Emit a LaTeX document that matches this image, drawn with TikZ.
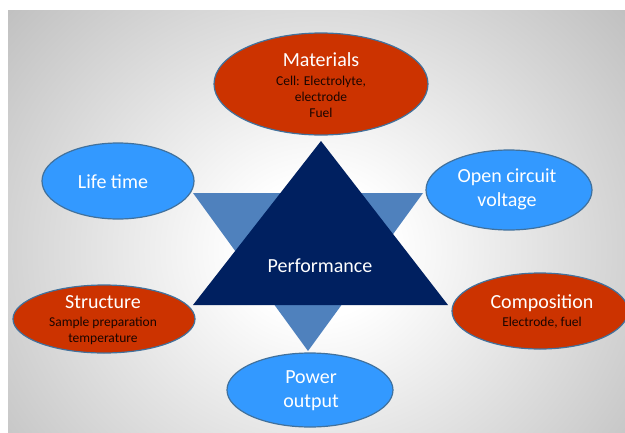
\documentclass[tikz,border=0pt]{standalone}
\usepackage{fontspec}
\setmainfont{Carlito}
\usetikzlibrary{shapes.geometric}
\definecolor{redfill}{HTML}{CC3300}
\definecolor{bluefill}{HTML}{3399FF}
\definecolor{edgeblue}{HTML}{41719C}
\definecolor{navytri}{HTML}{002060}
\definecolor{midblue}{HTML}{4F81BD}
\definecolor{subtext}{HTML}{1A0500}
\pgfdeclareradialshading{bgshade}{\pgfpoint{0bp}{0bp}}{color(0bp)=(white); color(6bp)=(white); color(28bp)=(black!20); color(50bp)=(black!40); color(75bp)=(black!42)}
\newcommand\ttlfont{\fontsize{20}{24}\selectfont}
\newcommand\subfont{\fontsize{13.5}{16}\selectfont}
\tikzset{
  oval/.style={ellipse, draw=edgeblue, line width=1.2pt, inner sep=0pt},
  redoval/.style={oval, fill=redfill},
  blueoval/.style={oval, fill=bluefill},
  ttl/.style={text=white, font=\ttlfont, align=center, inner sep=0pt},
  sub/.style={text=subtext, font=\subfont, align=center, inner sep=0pt}
}
\begin{document}
\begin{tikzpicture}[x=1pt,y=-1pt]
\useasboundingbox (0,0) rectangle (625,432);
\fill[white] (0,0) rectangle (625,432);
\begin{scope}
  \clip (8,10) rectangle (625,432);
  \shade[shading=bgshade] (8,-30) rectangle (625,530);
\end{scope}
% triangles
\fill[midblue] (193,193) -- (423,193) -- (308,351) -- cycle;
\fill[navytri] (321,141) -- (448,305) -- (193,305) -- cycle;
\node[ttl] (perf) at (320,266) {Performance};
% ellipses
\node[redoval, minimum width=214, minimum height=102] (mat) at (321,84) {};
\node[blueoval, minimum width=152, minimum height=76] (life) at (118,181) {};
\node[blueoval, minimum width=166, minimum height=80] (ocv) at (509,190) {};
\node[redoval, minimum width=182, minimum height=68] (struc) at (104,319) {};
\node[redoval, minimum width=176, minimum height=76] (comp) at (540,311) {};
\node[blueoval, minimum width=166, minimum height=74] (pow) at (310,390) {};
% texts
\node[ttl] (matT) at (321,60) {Materials};
\node[sub] (matS) at (321,97) {Cell: Electrolyte,\\electrode\\Fuel};
\node[ttl] (lifeT) at (113,182) {Life time};
\node[ttl] (ocvT) at (507,189) {Open circuit\\voltage};
\node[ttl] (strucT) at (103,302) {Structure};
\node[sub] (strucS) at (103,330.5) {Sample preparation\\temperature};
\node[ttl] (compT) at (542,303) {Composition};
\node[sub] (compS) at (542,323) {Electrode, fuel};
\node[ttl] (powT) at (311,391) {Power\\output};
\end{tikzpicture}
\end{document}
